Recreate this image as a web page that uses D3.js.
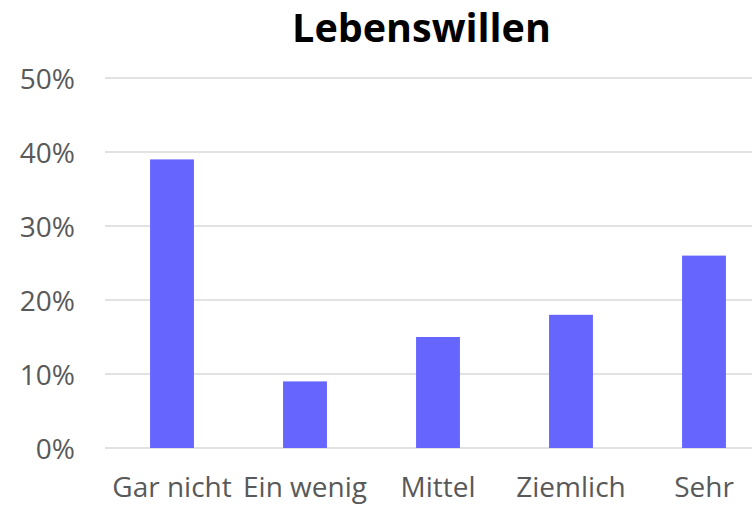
<!DOCTYPE html>
<html><head><meta charset="utf-8">
<script src="https://cdn.jsdelivr.net/npm/d3@7"></script>
<style>html,body{margin:0;padding:0;background:#fff;}svg{display:block;}</style>
</head><body>
<svg id="c" width="752" height="505"></svg>
<script>
const categories = ["Gar nicht", "Ein wenig", "Mittel", "Ziemlich", "Sehr"];
const values = [0.39, 0.09, 0.15, 0.18, 0.26];
const yTicks = [0, 0.1, 0.2, 0.3, 0.4, 0.5];
const title = "Lebenswillen";

const svg = d3.select("#c");
const font = "'Open Sans', sans-serif";
const x = d3.scaleBand().domain(categories).range([105.5, 770.5]).paddingInner(0.67).paddingOuter(0.335);
const y = d3.scaleLinear().domain([0, 0.5]).range([448, 78]);

svg.append("g").selectAll("line").data(yTicks).join("line")
  .attr("x1", 105).attr("x2", 752)
  .attr("y1", d => y(d)).attr("y2", d => y(d))
  .attr("stroke", "#d9d9d9").attr("stroke-width", 1.5);

svg.append("g").selectAll("rect").data(values).join("rect")
  .attr("x", (d, i) => x(categories[i]))
  .attr("width", x.bandwidth())
  .attr("y", d => y(d))
  .attr("height", d => y(0) - y(d))
  .attr("fill", "#6666ff");

const yAxis = d3.axisLeft(y).tickValues(yTicks).tickFormat(d3.format(".0%")).tickSize(0).tickPadding(0);
const ya = svg.append("g").attr("transform", "translate(75,0)").call(yAxis);
ya.select(".domain").remove();
ya.selectAll("text").attr("font-family", font).attr("font-size", 28).attr("fill", "#595959").attr("dy", "0.36em");

const xAxis = d3.axisBottom(x).tickSize(0).tickPadding(0);
const xa = svg.append("g").attr("transform", "translate(0,448)").call(xAxis);
xa.select(".domain").remove();
xa.selectAll("text").attr("font-family", font).attr("font-size", 28).attr("fill", "#595959").attr("dy", null).attr("y", 49);

svg.append("text").attr("x", 421.5).attr("y", 42).attr("text-anchor", "middle")
  .attr("font-family", font).attr("font-weight", "bold").attr("font-size", 39.5).attr("fill", "#000").text(title);
</script>
</body></html>
